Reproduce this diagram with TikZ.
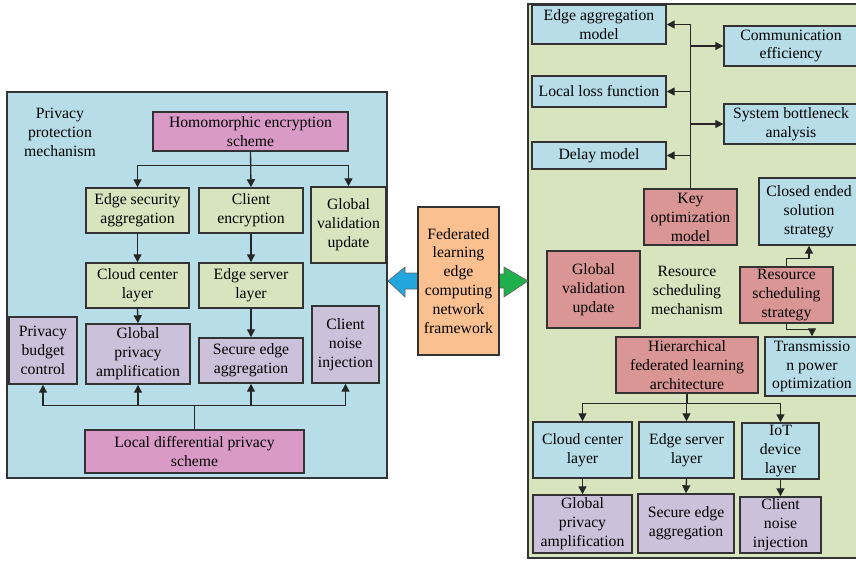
\documentclass[tikz,border=0pt]{standalone}
\usepackage{fontspec}
\setmainfont{Liberation Serif}
\usetikzlibrary{arrows.meta,calc}
\definecolor{PBlue}{HTML}{B7DEE8}
\definecolor{PGreen}{HTML}{D7E4BD}
\definecolor{PLilac}{HTML}{CCC1DA}
\definecolor{PMagenta}{HTML}{DA9AC8}
\definecolor{PRed}{HTML}{D99694}
\definecolor{POrange}{HTML}{FAC090}
\definecolor{ABlue}{HTML}{23A5DE}
\definecolor{AGreen}{HTML}{1FB04B}
\definecolor{Edge}{HTML}{333333}
\tikzset{
    box/.style = {draw=Edge, line width=1.1pt, align=center, inner sep=0pt,
        font=\fontsize{11.8}{14.2}\selectfont},
    wh/.style 2 args = {minimum width=#1*0.75pt, minimum height=#2*0.75pt},
    gbox/.style = {box, fill=PGreen},
    bbox/.style = {box, fill=PBlue},
    lbox/.style = {box, fill=PLilac},
    mbox/.style = {box, fill=PMagenta},
    rbox/.style = {box, fill=PRed},
    note/.style = {align=center, inner sep=0pt, font=\fontsize{11.8}{14.2}\selectfont},
    arr/.style = {draw=black!85, line width=1pt, -{Triangle[length=6pt,width=6pt]}},
    lin/.style = {draw=black!85, line width=1pt}
}
\begin{document}
\begin{tikzpicture}[x=0.75pt, y=-0.75pt]
    \clip (0,0) rectangle (856,560);
    \fill[white] (0,0) rectangle (856,560);
    \draw[draw=Edge, line width=1.1pt, fill=PBlue] (7,92) rectangle (387,478);
    \draw[draw=Edge, line width=1.1pt, fill=PGreen] (528,4) rectangle (880,558);

    \node[note] (ppm) at (60,132) {Privacy\\protection\\mechanism};
    \node[mbox, wh={195}{39}] (hom) at (250.5,131.5) {Homomorphic encryption\\scheme};
    \node[gbox, wh={103}{45}] (esa) at (137.5,210.5) {Edge security\\aggregation};
    \node[gbox, wh={104}{45}] (cenc) at (251,210.5) {Client\\encryption};
    \node[gbox, wh={75}{76}] (gvuL) at (348.5,225) {Global\\validation\\update};
    \node[gbox, wh={103}{45}] (cclL) at (137.5,285.5) {Cloud center\\layer};
    \node[gbox, wh={104}{45}] (eslL) at (251,285.5) {Edge server\\layer};
    \node[lbox, wh={68}{67}] (pbc) at (43,350.5) {Privacy\\budget\\control};
    \node[lbox, wh={104}{60}] (gpaL) at (138,354) {Global\\privacy\\amplification};
    \node[lbox, wh={104}{45}] (seaL) at (251,360.5) {Secure edge\\aggregation};
    \node[lbox, wh={67}{77}] (cniL) at (345.5,344.5) {Client\\noise\\injection};
    \node[mbox, wh={219}{43}] (ldp) at (194.5,451.5) {Local differential privacy\\scheme};

    \draw[lin] (hom.south) -- ++(0,14) coordinate (hj);
    \draw[arr] (hj) -| (esa.north);
    \draw[arr] (hj) -| (gvuL.north);
    \draw[arr] (hom.south) -- (cenc.north);
    \draw[arr] (esa.south) -- (cclL.north);
    \draw[arr] (cenc.south) -- (eslL.north);
    \draw[arr] (cclL.south) -- (gpaL.north);
    \draw[arr] (eslL.south) -- (seaL.north);
    \draw[lin] (ldp.north) -- ++(0,-24) coordinate (lj);
    \draw[arr] (lj) -| (pbc.south);
    \draw[arr] (lj) -| (gpaL.south);
    \draw[arr] (lj) -| (seaL.south);
    \draw[arr] (lj) -| (cniL.south);

    \draw[draw=black!60, line width=0.5pt, fill=ABlue] (418,273) -- (405,273) -- (405,267) -- (388,281)
        -- (405,297) -- (405,289) -- (418,289) -- cycle;
    \draw[draw=black!60, line width=0.5pt, fill=AGreen] (499,274) -- (504,274) -- (504,267) -- (528,281)
        -- (504,297) -- (504,288) -- (499,288) -- cycle;
    \node[box, fill=POrange, wh={81}{148}] (fed) at (458.5,281) {Federated\\learning\\edge\\computing\\network\\framework};

    \node[bbox, wh={134}{39}] (eam) at (599,24.5) {Edge aggregation\\model};
    \node[bbox, wh={134}{31}] (llf) at (599,91.5) {Local loss function};
    \node[bbox, wh={134}{27}] (dm) at (599,155.5) {Delay model};
    \node[bbox, wh={134}{40}] (ce) at (791,46) {Communication\\efficiency};
    \node[bbox, wh={134}{40}] (sba) at (791,124) {System bottleneck\\analysis};
    \node[rbox, wh={93}{56}] (kom) at (690.5,217) {Key\\optimization\\model};
    \node[bbox, wh={100}{67}] (cess) at (809,211.5) {Closed ended\\solution\\strategy};
    \node[rbox, wh={93}{77}] (gvuR) at (593.5,289.5) {Global\\validation\\update};
    \node[note] (rsm) at (687,290) {Resource\\scheduling\\mechanism};
    \node[rbox, wh={93}{56}] (rss) at (786.5,295) {Resource\\scheduling\\strategy};
    \node[rbox, wh={142}{56}] (hfl) at (687,365) {Hierarchical\\federated learning\\architecture};
    \node[bbox, wh={94}{59}] (tpo) at (812,366.5) {Transmissio\\n power\\optimization};
    \node[bbox, wh={99}{56}] (cclR) at (582.5,450) {Cloud center\\layer};
    \node[bbox, wh={95}{56}] (eslR) at (686.5,450) {Edge server\\layer};
    \node[bbox, wh={77}{56}] (iot) at (780.5,451) {IoT\\device\\layer};
    \node[lbox, wh={99}{58}] (gpaR) at (582.5,524) {Global\\privacy\\amplification};
    \node[lbox, wh={96}{59}] (seaR) at (686,523.5) {Secure edge\\aggregation};
    \node[lbox, wh={81}{56}] (cniR) at (780.5,525) {Client\\noise\\injection};

    \draw[lin] (kom.north) -- (kom.north |- eam.east);
    \draw[arr] (kom.north |- eam.east) -- (eam.east);
    \draw[arr] (kom.north |- llf.east) -- (llf.east);
    \draw[arr] (kom.north |- dm.east) -- (dm.east);
    \draw[arr] (kom.north |- ce.west) -- (ce.west);
    \draw[arr] (kom.north |- sba.west) -- (sba.west);
    \draw[arr] (rss.north) -- ++(0,-8) -| (cess.south);
    \draw[arr] (rss.south) -- ++(0,6) -| (tpo.north);
    \draw[lin] (hfl.south) -- ++(0,10) coordinate (hj2);
    \draw[arr] (hj2) -| (cclR.north);
    \draw[arr] (hj2) -| (eslR.north);
    \draw[arr] (hj2) -| (iot.north);
    \draw[arr] (cclR.south) -- (gpaR.north);
    \draw[arr] (eslR.south) -- (seaR.north);
    \draw[arr] (iot.south) -- (cniR.north);
\end{tikzpicture}
\end{document}
